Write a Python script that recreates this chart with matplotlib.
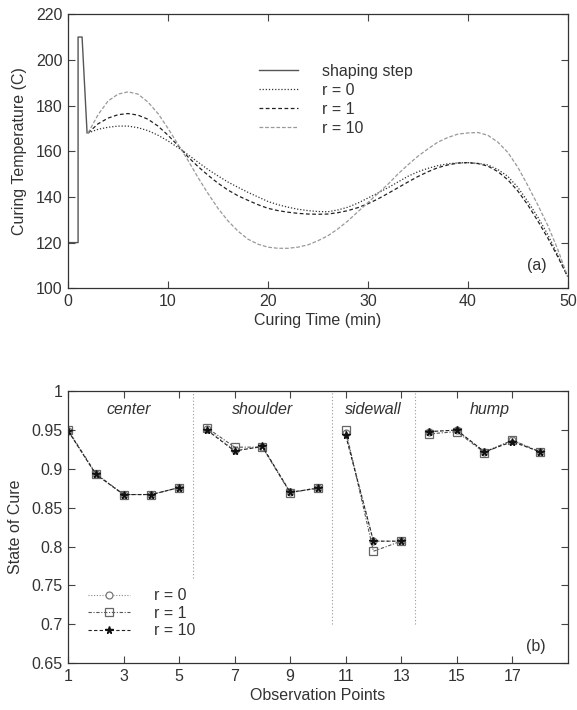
import matplotlib
matplotlib.use('Agg')
import matplotlib.pyplot as plt

plt.rcParams['font.family'] = ['Liberation Sans', 'DejaVu Sans']
plt.rcParams['font.size'] = 11.5

# ---- (a) curing temperature profiles ----
shaping_t = [0, 1.0, 1.0, 1.4, 1.9]
shaping_temp = [120, 120, 210, 210, 168]

time_min = list(range(2, 51))
temp_r0 = [168, 169.6, 170.5, 171, 171, 170.3, 169, 167, 164.5, 161.6,
           158.5, 155.2, 152, 149.2, 146.5, 144.2, 142, 140, 138, 136.6,
           135.5, 134.6, 134, 133.6, 133.5, 134.3, 135.5, 137.3, 139.5, 141.7,
           144, 146.5, 149, 151, 152.5, 153.7, 154.5, 154.9, 155, 154.7,
           154, 152, 149, 144.2, 138, 131.2, 123.5, 114.5, 105]
temp_r1 = [168, 172, 174.5, 176, 176.5, 175.8, 174, 171, 167, 162.5,
           157.5, 153.3, 149.5, 146, 143, 140.5, 138.5, 136.6, 135, 134,
           133.3, 132.8, 132.5, 132.4, 132.5, 133.1, 134, 135.3, 137, 139.1,
           141.5, 144, 146.5, 148.9, 151, 152.8, 154, 154.8, 155, 154.6,
           153.5, 151.1, 147.5, 142.6, 136.5, 129.5, 122, 113.8, 105]
temp_r10 = [168, 176, 182, 185, 186, 185, 181.5, 176.5, 170, 163,
            156, 148.5, 141.5, 135, 129.5, 125, 121.5, 119.3, 118, 117.5,
            117.5, 118, 119, 120.8, 123, 126, 129.5, 133.5, 137.5, 141.5,
            145.5, 150, 154, 157.8, 161, 164, 166, 167.5, 168, 168.2,
            167, 164, 159.5, 153, 145, 136.5, 127.5, 117, 105]

# ---- (b) state of cure at observation points ----
points = list(range(1, 19))
groups = [(0, 5), (5, 10), (10, 13), (13, 18)]
group_names = ['center', 'shoulder', 'sidewall', 'hump']
group_label_x = [3.2, 8.0, 12.0, 16.2]
separators = [5.5, 10.5, 13.5]
sep_bottom = [0.76, 0.70, 0.70]

cure_r0 = [0.949, 0.893, 0.867, 0.867, 0.876, 0.951, 0.924, 0.928, 0.870, 0.875,
           0.946, 0.807, 0.807, 0.948, 0.950, 0.922, 0.937, 0.922]
cure_r1 = [0.950, 0.894, 0.867, 0.867, 0.876, 0.953, 0.928, 0.928, 0.869, 0.876,
           0.950, 0.794, 0.807, 0.945, 0.948, 0.921, 0.937, 0.922]
cure_r10 = [0.949, 0.893, 0.867, 0.867, 0.876, 0.950, 0.923, 0.929, 0.870, 0.875,
            0.943, 0.807, 0.807, 0.948, 0.950, 0.922, 0.935, 0.922]

fig = plt.figure(figsize=(5.77, 7.10), dpi=100)
ax1 = fig.add_axes([0.118, 0.594, 0.866, 0.386])
ax2 = fig.add_axes([0.118, 0.066, 0.866, 0.383])

txt = '#333333'

def style_axes(ax):
    ax.tick_params(direction='in', length=5, width=0.8, top=True, right=True,
                   colors='#444444', labelcolor=txt, labelsize=11.5, pad=4)
    for s in ax.spines.values():
        s.set_color('#333333')
        s.set_linewidth(0.9)

# (a)
ax1.plot(shaping_t, shaping_temp, color='#555555', lw=1.0, ls='-', label='shaping step')
ax1.plot(time_min, temp_r0, color='#333333', lw=0.9, ls=(0, (1, 1.5)), label='r = 0')
ax1.plot(time_min, temp_r1, color='#222222', lw=0.9, ls=(0, (3, 2)), label='r = 1')
ax1.plot(time_min, temp_r10, color='#999999', lw=0.9, ls=(0, (3, 1.5)), label='r = 10')
ax1.set_xlim(0, 50)
ax1.set_ylim(100, 220)
ax1.set_xticks([0, 10, 20, 30, 40, 50])
ax1.set_yticks([100, 120, 140, 160, 180, 200, 220])
ax1.set_xlabel('Curing Time (min)', color=txt, labelpad=3)
ax1.set_ylabel('Curing Temperature (C)', color=txt, labelpad=6)
ax1.text(46.9, 110, '(a)', color=txt, ha='center', va='center')
ax1.legend(loc='upper left', bbox_to_anchor=(0.383, 0.818), frameon=False,
           handlelength=2.4, handletextpad=1.5, labelspacing=0.25,
           borderaxespad=0, borderpad=0, fontsize=11.5, labelcolor=txt)
style_axes(ax1)

# (b)
for k, (a, b) in enumerate(groups):
    xs = points[a:b]
    ax2.plot(xs, cure_r0[a:b], color='#888888', lw=0.8, ls=(0, (1, 1.5)),
             marker='o', ms=5, mfc='white', mec='#777777', mew=0.9,
             label='r = 0' if k == 0 else None)
    ax2.plot(xs, cure_r1[a:b], color='#555555', lw=0.8, ls=(0, (3, 1.5, 1, 1.5)),
             marker='s', ms=5.5, mfc='none', mec='#666666', mew=0.9,
             label='r = 1' if k == 0 else None)
    ax2.plot(xs, cure_r10[a:b], color='#222222', lw=0.8, ls=(0, (3, 2)),
             marker='*', ms=5.5, mfc='#111111', mec='#111111',
             label='r = 10' if k == 0 else None)

for xs, yb in zip(separators, sep_bottom):
    ax2.plot([xs, xs], [yb, 1.0], color='#999999', lw=0.8, ls=(0, (1, 2)))

for name, gx in zip(group_names, group_label_x):
    ax2.text(gx, 0.977, name, style='italic', color=txt, ha='center', va='center')

ax2.set_xlim(1, 19)
ax2.set_ylim(0.65, 1.0)
ax2.set_xticks([1, 3, 5, 7, 9, 11, 13, 15, 17])
yt = [0.65, 0.7, 0.75, 0.8, 0.85, 0.9, 0.95, 1.0]
ax2.set_yticks(yt)
ax2.set_yticklabels(['0.65', '0.7', '0.75', '0.8', '0.85', '0.9', '0.95', '1'])
ax2.set_xlabel('Observation Points', color=txt, labelpad=3)
ax2.set_ylabel('State of Cure', color=txt, labelpad=6)
ax2.text(17.85, 0.671, '(b)', color=txt, ha='center', va='center')
ax2.legend(loc='lower left', bbox_to_anchor=(0.04, 0.092), frameon=False,
           handlelength=2.6, handletextpad=1.5, labelspacing=0.15,
           borderaxespad=0, borderpad=0, fontsize=11.5, labelcolor=txt)
style_axes(ax2)

fig.savefig('out.png', dpi=100)
